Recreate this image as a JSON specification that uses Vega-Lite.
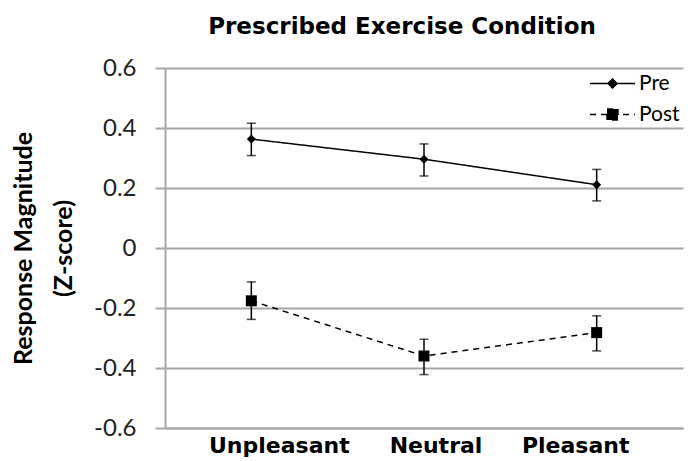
{
  "$schema": "https://vega.github.io/schema/vega-lite/v6.json",
  "width": 518,
  "height": 360,
  "autosize": {"type": "none"},
  "padding": {"left": 165, "top": 68, "right": 8, "bottom": 33},
  "background": "white",
  "config": {"view": {"stroke": null}},
  "title": {
    "text": "Prescribed Exercise Condition",
    "font": "DejaVu Sans",
    "fontWeight": "bold",
    "fontSize": 23,
    "color": "#000000",
    "anchor": "middle",
    "dx": -22,
    "offset": 17
  },
  "data": {
    "values": [
      {"cond": "Unpleasant", "time": "Pre", "mean": 0.363, "lo": 0.308, "hi": 0.416},
      {"cond": "Neutral", "time": "Pre", "mean": 0.296, "lo": 0.240, "hi": 0.347},
      {"cond": "Pleasant", "time": "Pre", "mean": 0.211, "lo": 0.157, "hi": 0.262},
      {"cond": "Unpleasant", "time": "Post", "mean": -0.176, "lo": -0.238, "hi": -0.113},
      {"cond": "Neutral", "time": "Post", "mean": -0.360, "lo": -0.422, "hi": -0.304},
      {"cond": "Pleasant", "time": "Post", "mean": -0.282, "lo": -0.343, "hi": -0.226}
    ]
  },
  "encoding": {
    "x": {
      "field": "cond",
      "type": "nominal",
      "sort": ["Unpleasant", "Neutral", "Pleasant"],
      "scale": {"type": "band", "paddingInner": 0, "paddingOuter": 0},
      "axis": {
        "title": null,
        "labelAngle": 0,
        "labelFont": "DejaVu Sans",
        "labelFontWeight": "bold",
        "labelFontSize": 22,
        "labelColor": "#000000",
        "labelPadding": 7,
        "labelOffset": {"condition": [{"test": "datum.value == 'Unpleasant'", "value": 28}, {"test": "datum.value == 'Neutral'", "value": 12}], "value": -21},
        "ticks": false,
        "domainColor": "#a6a6a6",
        "domainWidth": 2,
        "grid": false
      }
    }
  },
  "layer": [
    {
      "mark": {"type": "rule", "color": "#000000", "strokeWidth": 1.5},
      "encoding": {
        "y": {
          "field": "lo",
          "type": "quantitative",
          "scale": {"domain": [-0.6, 0.6], "nice": false, "zero": false},
          "axis": {
            "values": [-0.6, -0.4, -0.2, 0, 0.2, 0.4, 0.6],
            "labelExpr": "abs(datum.value) < 1e-9 ? '0' : (datum.value < 0 ? '-' : '') + format(abs(datum.value), '.1f')",
            "labelFont": "Lato",
            "labelFontSize": 24,
            "labelColor": "#222222",
            "labelPadding": 19,
            "tickSize": 10,
            "tickColor": "#a6a6a6",
            "tickWidth": 2,
            "domainColor": "#a6a6a6",
            "domainWidth": 2,
            "gridColor": "#a6a6a6",
            "gridWidth": 2,
            "title": ["Response Magnitude", "(Z-score)"],
            "titleFont": "Lato",
            "titleFontWeight": "bold",
            "titleFontSize": 25,
            "titleColor": "#000000",
            "titleAngle": -90,
            "titleAlign": "center",
            "titleBaseline": "top",
            "titleLineHeight": 40,
            "titleX": -154,
            "titleY": 180
          }
        },
        "y2": {"field": "hi"}
      }
    },
    {
      "mark": {"type": "tick", "color": "#000000", "size": 9, "thickness": 1.5},
      "encoding": {"y": {"field": "lo", "type": "quantitative"}}
    },
    {
      "mark": {"type": "tick", "color": "#000000", "size": 9, "thickness": 1.5},
      "encoding": {"y": {"field": "hi", "type": "quantitative"}}
    },
    {
      "mark": {"type": "line", "color": "#000000", "strokeWidth": 1.5},
      "encoding": {
        "y": {"field": "mean", "type": "quantitative"},
        "detail": {"field": "time"},
        "strokeDash": {
          "field": "time",
          "type": "nominal",
          "scale": {"domain": ["Pre", "Post"], "range": [[1, 0], [6, 5]]},
          "legend": {
            "title": null,
            "orient": "none",
            "legendX": 437,
            "legendY": 5,
            "padding": 0,
            "symbolSize": 100,
            "symbolStrokeWidth": 1.5,
            "symbolStrokeColor": "#000000",
            "symbolFillColor": "#000000",
            "labelFont": "Lato",
            "labelFontSize": 21,
            "labelColor": "#000000",
            "labelOffset": 16,
            "rowPadding": 9,
            "encode": {
              "symbols": {
                "update": {
                  "shape": {"signal": "datum.value == 'Pre' ? 'M-4.5,0L4.5,0M-0.9,0L0,-0.9L0.9,0L0,0.9Z' : 'M-4.5,0L4.5,0M-1.1,-1.1L1.1,-1.1L1.1,1.1L-1.1,1.1Z'"},
                  "fill": {"value": "#000000"},
                  "fillOpacity": {"value": 1},
                  "stroke": {"value": "#000000"},
                  "strokeOpacity": {"value": 1},
                  "strokeWidth": {"value": 1.5},
                  "opacity": {"value": 1}
                }
              }
            }
          }
        }
      }
    },
    {
      "mark": {"type": "point", "filled": true, "color": "#000000", "opacity": 1},
      "encoding": {
        "y": {"field": "mean", "type": "quantitative"},
        "shape": {"condition": {"test": "datum.time == 'Pre'", "value": "diamond"}, "value": "square"},
        "size": {"condition": {"test": "datum.time == 'Pre'", "value": 81}, "value": 121}
      }
    }
  ]
}
